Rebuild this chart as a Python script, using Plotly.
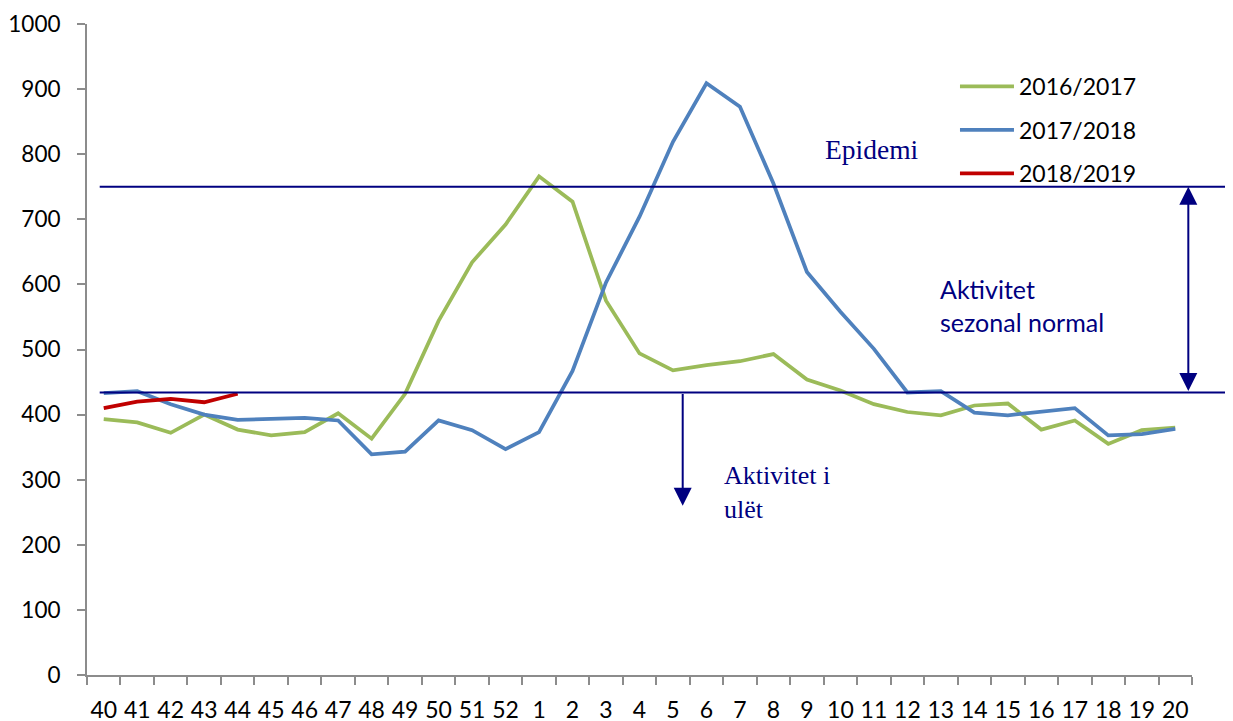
import plotly.graph_objects as go

weeks = ["40", "41", "42", "43", "44", "45", "46", "47", "48", "49", "50", "51", "52",
         "1", "2", "3", "4", "5", "6", "7", "8", "9", "10", "11", "12", "13", "14",
         "15", "16", "17", "18", "19", "20"]

season_names = ["2016/2017", "2017/2018", "2018/2019"]
s2016_2017 = [393, 388, 372, 400, 377, 368, 373, 402, 363, 432, 544, 634, 692,
              766, 727, 575, 494, 468, 476, 482, 493, 454, 437, 416, 404, 399, 414,
              417, 377, 391, 355, 376, 380]
s2017_2018 = [433, 436, 416, 400, 392, 394, 395, 391, 339, 343, 391, 376, 347,
              373, 467, 603, 704, 819, 909, 873, 755, 619, 558, 501, 434, 436, 403,
              399, 404, 410, 368, 370, 378]
s2018_2019 = [410, 420, 424, 419, 432]

epidemic_threshold = 750
seasonal_threshold = 434

colors = ["#9BBB59", "#4F81BD", "#C00000"]
navy = "#000080"
sans = "Lato, 'Open Sans', sans-serif"
serif = "'Liberation Serif', 'Times New Roman', serif"

fig = go.Figure()
for i, (name, vals) in enumerate(zip(season_names, [s2016_2017, s2017_2018, s2018_2019])):
    fig.add_trace(go.Scatter(
        x=weeks[:len(vals)], y=vals, mode="lines", name=name,
        line=dict(color=colors[i], width=3.75), legendgroup=name,
    ))

# threshold lines
for yv in (epidemic_threshold, seasonal_threshold):
    fig.add_shape(type="line", xref="paper", yref="y", x0=0.0115, x1=1.07,
                  y0=yv, y1=yv, line=dict(color=navy, width=2), layer="above")

# double arrow (seasonal normal band)
fig.add_annotation(x=32.39, y=epidemic_threshold, ax=32.39, ay=seasonal_threshold,
                   xref="x", yref="y", axref="x", ayref="y", text="",
                   showarrow=True, arrowhead=2, startarrowhead=2, arrowside="end+start",
                   arrowsize=1.8, startarrowsize=1.8, arrowwidth=2, arrowcolor=navy)
# down arrow (low activity)
fig.add_annotation(x=17.29, y=260, ax=17.29, ay=seasonal_threshold,
                   xref="x", yref="y", axref="x", ayref="y", text="",
                   showarrow=True, arrowhead=2, arrowsize=1.8, arrowwidth=2,
                   arrowcolor=navy)

fig.add_annotation(x=0.6665, y=807, xref="paper", yref="y", text="Epidemi",
                   showarrow=False, xanchor="left", yanchor="middle",
                   font=dict(family=serif, size=27.5, color=navy))
fig.add_annotation(x=0.7698, y=568, xref="paper", yref="y",
                   text="Aktivitet<br>sezonal normal", showarrow=False,
                   xanchor="left", yanchor="middle", align="left",
                   font=dict(family=sans, size=25, color=navy))
fig.add_annotation(x=0.575, y=280, xref="paper", yref="y",
                   text="Aktivitet i<br>ulët", showarrow=False,
                   xanchor="left", yanchor="middle", align="left",
                   font=dict(family=serif, size=26, color=navy))

fig.update_layout(
    width=1233, height=721,
    margin=dict(l=79, r=49, t=16, b=54, autoexpand=False),
    paper_bgcolor="white", plot_bgcolor="white",
    font=dict(family=sans, size=22, color="black"),
    showlegend=True,
    legend=dict(x=0.7855, y=0.937, xanchor="left", yanchor="top",
                font=dict(family=sans, size=23, color="black"),
                tracegroupgap=10.5, itemwidth=54, bgcolor="rgba(0,0,0,0)"),
)
fig.update_xaxes(
    type="category", categoryorder="array", categoryarray=weeks,
    range=[-0.5, len(weeks) - 0.5], automargin=False, tickangle=0,
    showline=True, linecolor="#8C8C8C", linewidth=2,
    ticks="outside", tickson="boundaries", ticklen=8, tickcolor="#8C8C8C",
    tickwidth=1.5, showgrid=False, zeroline=False,
    tickfont=dict(family=sans, size=23, color="black"), ticklabelstandoff=13,
)
fig.update_yaxes(
    range=[0, 1000], dtick=100, tick0=0, automargin=False,
    showline=True, linecolor="#8C8C8C", linewidth=2,
    ticks="outside", ticklen=8, tickcolor="#8C8C8C", tickwidth=1.5,
    showgrid=False, zeroline=False,
    tickfont=dict(family=sans, size=22.5, color="black"), ticklabelstandoff=12,
)

fig.write_html("out.html")
